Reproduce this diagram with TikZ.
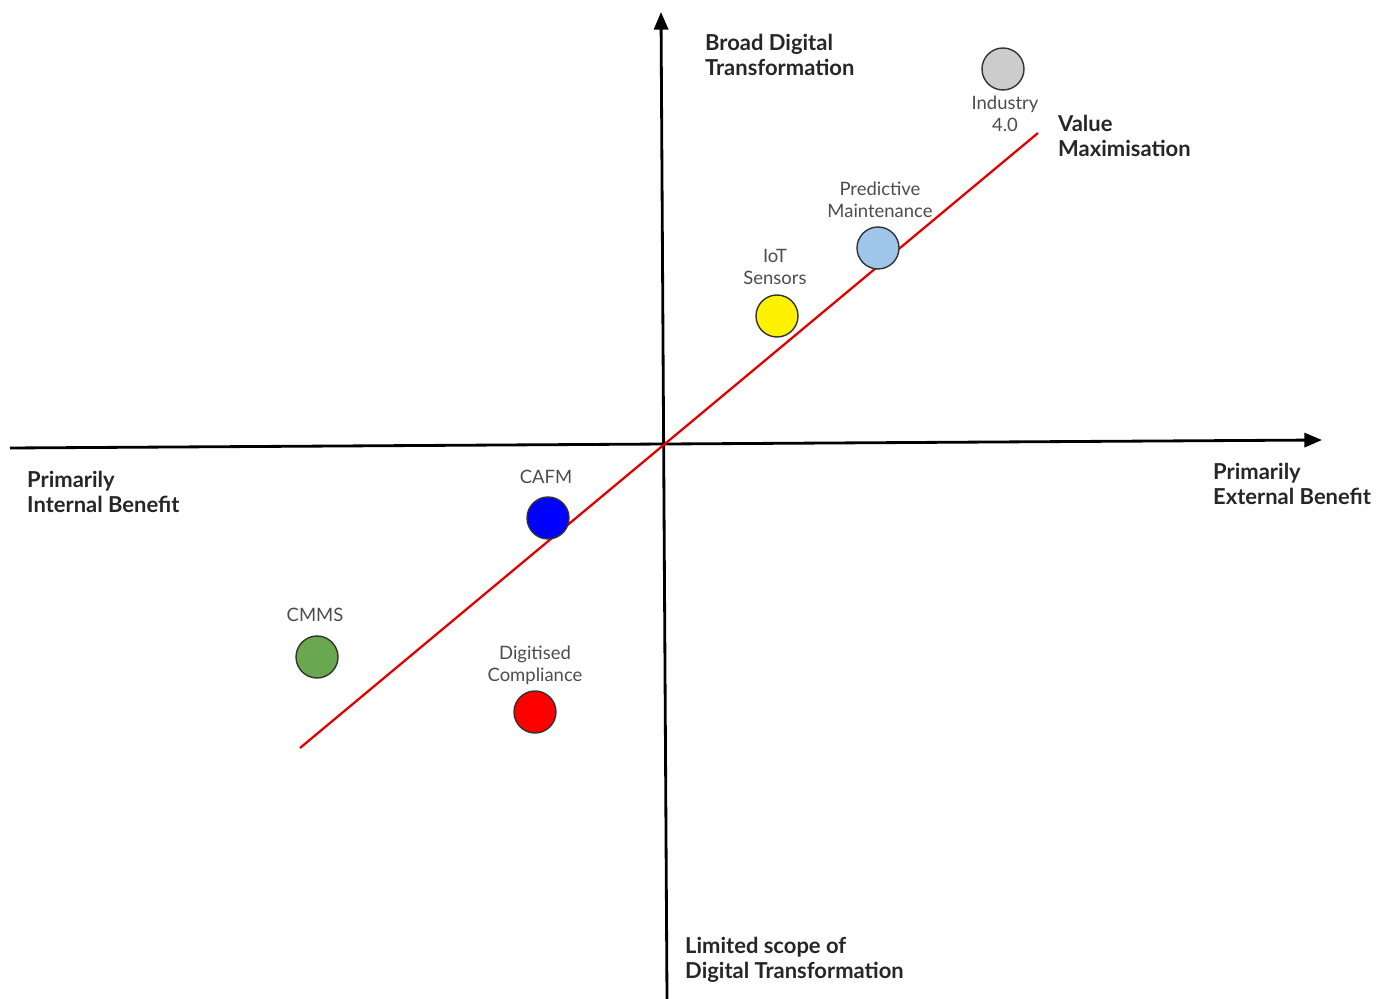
\documentclass[tikz,border=0pt]{standalone}
\usepackage{fontspec}
\setmainfont{Lato}
\usetikzlibrary{arrows.meta}

\definecolor{dotgrey}{HTML}{CCCCCC}
\definecolor{dotlightblue}{HTML}{9FC5E8}
\definecolor{dotgreen}{HTML}{6AA84F}

\tikzset{
    dot/.style={circle, draw=black!80, thick, minimum size=0.84cm, inner sep=0pt},
    dotlabel/.style={align=center, text=black!70, font=\fontsize{10.5}{12.5}\selectfont},
    axislabel/.style={align=left, anchor=west, text=black!85, font=\bfseries\fontsize{12.5}{14.2}\selectfont},
    axis/.style={line width=1.6pt, -{Triangle[length=10pt, width=8pt]}}
}

\begin{document}
\begin{tikzpicture}[x=0.02cm, y=-0.02cm]
    \useasboundingbox (0,0) rectangle (1389,999);

    % axes
    \coordinate (left) at (10,448);
    \coordinate (right) at (1322,440);
    \coordinate (bottom) at (667,999);
    \coordinate (top) at (661,12);
    \draw [axis] (left) -- (right);
    \draw [axis] (bottom) -- (top);

    % trend line
    \coordinate (low) at (300,748);
    \coordinate (high) at (1038,133);
    \draw [red!90!black, line width=1.3pt] (low) -- (high);

    \node [axislabel] (broad) at (699,55) {Broad Digital\\Transformation};
    \node [axislabel] (value) at (1052,136) {Value\\Maximisation};
    \node [axislabel] (external) at (1207,484) {Primarily\\External Benefit};
    \node [axislabel] (internal) at (21,492) {Primarily\\Internal Benefit};
    \node [axislabel] (limited) at (679,960) {Limited scope of\\Digital Transformation};

    \node [dot, fill=dotgrey] (industry) at (1003,69) {};
    \node [dotlabel] (industrytext) at (1005,114) {Industry\\4.0};
    \node [dot, fill=dotlightblue] (predictive) at (878,248) {};
    \node [dotlabel] (predictivetext) at (880,200) {Predictive\\Maintenance};
    \node [dot, fill=yellow] (iot) at (777,316) {};
    \node [dotlabel] (iottext) at (775,267) {IoT\\Sensors};
    \node [dot, fill=blue] (cafm) at (548,518) {};
    \node [dotlabel] (cafmtext) at (546,477) {CAFM};
    \node [dot, fill=dotgreen] (cmms) at (317,657) {};
    \node [dotlabel] (cmmstext) at (315,615) {CMMS};
    \node [dot, fill=red] (compliance) at (535,712) {};
    \node [dotlabel] (compliancetext) at (535,665) {Digitised\\Compliance};

\end{tikzpicture}
\end{document}
